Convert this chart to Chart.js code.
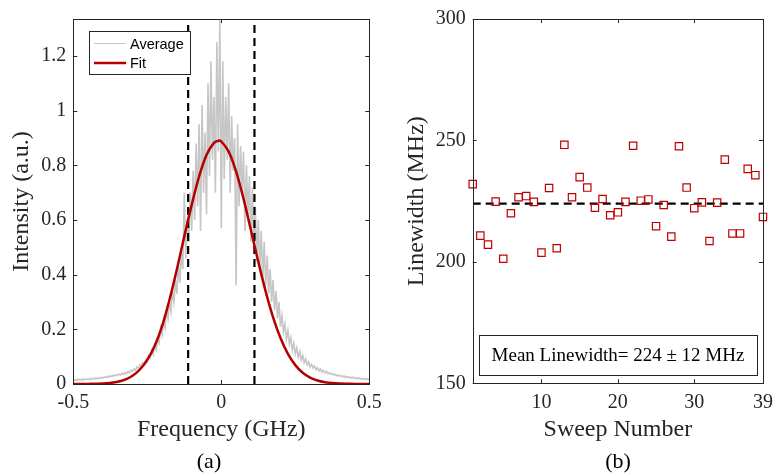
<!DOCTYPE html>
<html>
<head>
<meta charset="utf-8">
<script src="https://cdn.jsdelivr.net/npm/chart.js@4.4.0/dist/chart.umd.min.js"></script>
<style>
    html, body { margin: 0; padding: 0; background: #fff; }
    #wrap { position: relative; width: 780px; height: 474px; }
    .panel { position: absolute; top: 0; width: 390px; height: 474px; }
</style>
</head>
<body>
<div id="wrap">
    <div class="panel" style="left:0"><canvas id="chart-spectrum" width="390" height="474"></canvas></div>
    <div class="panel" style="left:390px"><canvas id="chart-linewidth" width="390" height="474"></canvas></div>
</div>
<script>
// panel (a): averaged spectrum, sampled every 5 MHz from -0.5 GHz
const freqStart = -0.5;
const freqStep = 0.005;
const avgIntensity = [
    0.014,0.016,0.013,0.018,0.015,0.017,0.014,0.019,0.016,0.018,0.017,0.020,0.016,0.021,0.018,0.022,0.019,0.023,0.020,0.024,0.022,
    0.026,0.023,0.028,0.025,0.030,0.027,0.032,0.029,0.034,0.031,0.036,0.033,0.039,0.035,0.042,0.038,0.046,0.041,0.050,0.047,
    0.055,0.050,0.062,0.058,0.070,0.064,0.078,0.072,0.090,0.082,0.105,0.095,0.122,0.108,0.140,0.125,0.165,0.150,0.205,0.180,
    0.235,0.205,0.270,0.240,0.300,0.265,0.340,0.300,0.380,0.330,0.440,0.370,0.480,0.420,0.700,0.460,0.600,0.520,0.700,0.560,
    0.780,0.600,0.880,0.650,0.950,0.560,1.020,0.700,0.920,0.620,1.100,0.760,1.180,0.820,1.050,0.700,1.250,0.850,1.330,0.570,
    1.180,0.750,1.050,0.820,1.100,0.700,0.980,0.780,0.900,0.360,0.950,0.650,0.870,0.700,0.850,0.560,0.800,0.600,0.760,0.520,
    0.720,0.480,0.650,0.450,0.600,0.420,0.560,0.380,0.520,0.360,0.470,0.330,0.420,0.300,0.380,0.270,0.340,0.240,0.300,0.210,
    0.250,0.190,0.220,0.165,0.195,0.145,0.170,0.125,0.150,0.110,0.132,0.098,0.118,0.088,0.104,0.078,0.092,0.070,0.082,0.062,
    0.072,0.058,0.066,0.052,0.060,0.048,0.055,0.044,0.050,0.041,0.046,0.038,0.042,0.035,0.039,0.032,0.036,0.030,0.033,0.028,
    0.031,0.026,0.029,0.024,0.027,0.023,0.026,0.021,0.025,0.020,0.023,0.019,0.022,0.018,0.021,0.017,0.020,0.016,0.019,0.015
];
const fitFreq = [
    -0.5,-0.475,-0.45,-0.425,-0.4,-0.375,-0.35,-0.325,-0.3,-0.275,-0.25,-0.225,-0.2,-0.175,-0.15,-0.125,-0.1,-0.075,-0.05,-0.025,
    -0.01,0,0.025,0.05,0.075,0.1,0.125,0.15,0.175,0.2,0.225,0.25,0.275,0.3,0.325,0.35,0.375,0.4,0.425,0.45,0.475,0.5
];
const fitIntensity = [
    0.0001,0.0002,0.0004,0.0009,0.0018,0.004,0.008,0.016,0.030,0.053,0.088,0.140,0.212,0.308,0.420,0.540,0.655,0.759,0.838,0.882,
    0.890,0.887,0.850,0.777,0.678,0.563,0.447,0.338,0.244,0.168,0.110,0.069,0.041,0.0235,0.0128,0.0066,0.0033,0.0015,0.0007,0.0003,0.0001,0.0001
];
const cutoffFreqs = [-0.112, 0.112];
const freqTicks = [-0.5, 0, 0.5];
const intensityTicks = [0, 0.2, 0.4, 0.6, 0.8, 1, 1.2];

// panel (b): linewidth per sweep
const sweepNumbers = [1,2,3,4,5,6,7,8,9,10,11,12,13,14,15,16,17,18,19,20,21,22,23,24,25,26,27,28,29,30,31,32,33,34,35,36,37,38,39];
const linewidths = [
    232.0,210.8,207.1,224.8,201.3,220.0,226.6,227.1,224.7,203.8,
    230.4,205.6,248.2,226.6,234.9,230.6,222.3,225.9,219.2,220.4,
    224.7,247.8,225.2,225.7,214.7,223.4,210.4,247.6,230.6,222.1,
    224.5,208.6,224.4,242.1,211.7,211.7,238.3,235.7,218.5
];
const meanLinewidth = 224;
const linewidthStd = 12;
const sweepTicks = [10, 20, 30, 39];
const linewidthTicks = [150, 200, 250, 300];

const SERIF = "'Liberation Serif', 'Times New Roman', serif";
const SANS = "'Liberation Sans', Arial, sans-serif";
const INK = '#262626';

// MATLAB-like box with inward ticks
const frameTicks = {
    id: 'frameTicks',
    afterDraw(chart) {
        const ctx = chart.ctx, a = chart.chartArea;
        const xs = chart.scales.x, ys = chart.scales.y;
        ctx.save();
        ctx.strokeStyle = INK;
        ctx.lineWidth = 1;
        ctx.beginPath();
        xs.ticks.forEach(t => {
            const px = Math.round(xs.getPixelForValue(t.value)) + 0.5;
            ctx.moveTo(px, a.bottom); ctx.lineTo(px, a.bottom - 4);
            ctx.moveTo(px, a.top); ctx.lineTo(px, a.top + 4);
        });
        ys.ticks.forEach(t => {
            const py = Math.round(ys.getPixelForValue(t.value)) + 0.5;
            ctx.moveTo(a.left, py); ctx.lineTo(a.left + 4, py);
            ctx.moveTo(a.right, py); ctx.lineTo(a.right - 4, py);
        });
        ctx.stroke();
        ctx.strokeRect(Math.round(a.left) + 0.5, Math.round(a.top) + 0.5,
            Math.round(a.right - a.left), Math.round(a.bottom - a.top));
        const tag = chart.options.plugins.frameTicks.tag;
        ctx.fillStyle = '#000';
        ctx.font = '22px ' + SERIF;
        ctx.textAlign = 'center';
        ctx.textBaseline = 'middle';
        ctx.fillText(tag.text, tag.x, 462);
        ctx.restore();
    }
};

const spectrumLegend = {
    id: 'spectrumLegend',
    afterDraw(chart) {
        const ctx = chart.ctx;
        ctx.save();
        ctx.fillStyle = '#fff';
        ctx.fillRect(89, 31, 101, 43);
        ctx.strokeStyle = INK;
        ctx.lineWidth = 1;
        ctx.strokeRect(89.5, 31.5, 101, 43);
        const items = chart.data.datasets.filter(d => d.inLegend)
            .sort((p, q) => p.legendRank - q.legendRank);
        ctx.font = '14.5px ' + SANS;
        ctx.textBaseline = 'middle';
        items.forEach((d, i) => {
            const y = 43.5 + i * 19.5;
            ctx.strokeStyle = d.borderColor;
            ctx.lineWidth = d.legendWidth;
            ctx.beginPath();
            ctx.moveTo(94, y); ctx.lineTo(126, y);
            ctx.stroke();
            ctx.fillStyle = '#000';
            ctx.fillText(d.label, 130, y + 1);
        });
        ctx.restore();
    }
};

const meanBox = {
    id: 'meanBox',
    afterDraw(chart) {
        const ctx = chart.ctx;
        ctx.save();
        ctx.fillStyle = '#fff';
        ctx.fillRect(89, 335, 278, 40);
        ctx.strokeStyle = INK;
        ctx.lineWidth = 1;
        ctx.strokeRect(89.5, 335.5, 278, 40);
        ctx.fillStyle = '#000';
        ctx.font = '19px ' + SERIF;
        ctx.textAlign = 'center';
        ctx.textBaseline = 'middle';
        ctx.fillText('Mean Linewidth= ' + meanLinewidth + ' \u00b1 ' + linewidthStd + ' MHz', 228, 356);
        ctx.restore();
    }
};

function axisOpts(min, max, tickValues, title, titlePad, size) {
    return {
        type: 'linear',
        min: min,
        max: max,
        grid: { display: false, drawTicks: false },
        border: { display: false },
        afterBuildTicks: s => { s.ticks = tickValues.map(v => ({ value: v })); },
        afterFit: s => {
            if (s.isHorizontal()) s.height = size; else s.width = size;
        },
        ticks: {
            color: INK,
            font: { family: SERIF, size: 20 },
            padding: 7,
            maxRotation: 0,
            autoSkip: false,
            callback: v => String(v)
        },
        title: {
            display: true,
            text: title,
            color: INK,
            font: { family: SERIF, size: 24 },
            padding: titlePad
        }
    };
}

const spectrumMax = 1.335;
const spectrumSets = [
    {
        label: 'Fit', inLegend: true, legendRank: 1, legendWidth: 2.5,
        data: fitFreq.map((f, i) => ({ x: f, y: fitIntensity[i] })),
        showLine: true, borderColor: '#b40000', borderWidth: 2.5,
        pointRadius: 0, tension: 0.35
    }
];
cutoffFreqs.forEach(c => {
    spectrumSets.push({
        label: 'cutoff', inLegend: false,
        data: [{ x: c, y: 0 }, { x: c, y: spectrumMax }],
        showLine: true, borderColor: '#000', borderWidth: 2.2,
        borderDash: [8, 5], pointRadius: 0
    });
});
spectrumSets.push({
    label: 'Average', inLegend: true, legendRank: 0, legendWidth: 1,
    data: avgIntensity.map((v, i) => ({ x: freqStart + i * freqStep, y: v })),
    showLine: true, borderColor: '#c6c6c6', borderWidth: 1.6,
    pointRadius: 0, tension: 0
});

new Chart(document.getElementById('chart-spectrum'), {
    type: 'scatter',
    data: { datasets: spectrumSets },
    plugins: [frameTicks, spectrumLegend],
    options: {
        responsive: false,
        animation: false,
        layout: { padding: { top: 15.7, right: 20.7, left: 0, bottom: 0 } },
        scales: {
            x: axisOpts(-0.5, 0.5, freqTicks, 'Frequency (GHz)', { top: 0, bottom: 29.6 }, 90),
            y: axisOpts(0, spectrumMax, intensityTicks, 'Intensity (a.u.)', { top: 7.3, bottom: 0 }, 73.3)
        },
        plugins: {
            legend: { display: false },
            tooltip: { enabled: false },
            frameTicks: { tag: { text: '(a)', x: 209 } }
        }
    }
});

new Chart(document.getElementById('chart-linewidth'), {
    type: 'scatter',
    data: {
        datasets: [
            {
                label: 'Linewidth',
                data: sweepNumbers.map((n, i) => ({ x: n, y: linewidths[i] })),
                pointStyle: 'rect', pointRadius: 5.2, pointBorderWidth: 1.2,
                pointBorderColor: '#c00000', pointBackgroundColor: 'rgba(0,0,0,0)',
                clip: false
            },
            {
                label: 'Mean',
                data: [{ x: sweepNumbers[0], y: meanLinewidth }, { x: sweepNumbers[sweepNumbers.length - 1], y: meanLinewidth }],
                showLine: true, borderColor: '#000', borderWidth: 2.2,
                borderDash: [8, 5], pointRadius: 0
            }
        ]
    },
    plugins: [frameTicks, meanBox],
    options: {
        responsive: false,
        animation: false,
        layout: { padding: { top: 15.7, right: 10.7, left: 0, bottom: 0 } },
        scales: {
            x: axisOpts(1, 39, sweepTicks, 'Sweep Number', { top: 0, bottom: 29.6 }, 90.7),
            y: axisOpts(150, 300, linewidthTicks, 'Linewidth (MHz)', { top: 12.3, bottom: 0 }, 82.7)
        },
        plugins: {
            legend: { display: false },
            tooltip: { enabled: false },
            frameTicks: { tag: { text: '(b)', x: 228 } }
        }
    }
});
</script>
</body>
</html>
